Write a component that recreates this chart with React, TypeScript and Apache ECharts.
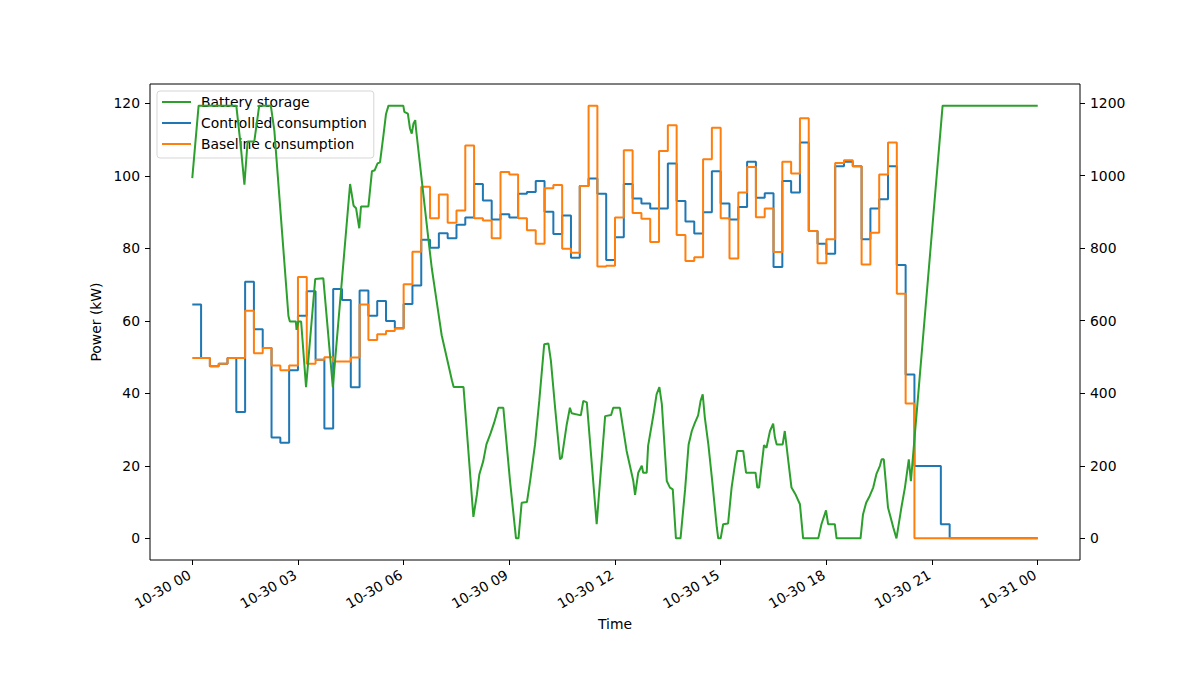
import React, { useEffect, useRef } from "react";
import * as echarts from "echarts";

// 15-minute steps starting 10-30 00:00 (hours from midnight)
const stepHours = 0.25;

const controlled = [
  64.5, 49.8, 47.5, 48.2, 49.8, 34.9, 70.8, 57.7, 52.5, 27.8,
  26.4, 46.4, 61.4, 68.2, 49.3, 30.3, 68.8, 65.8, 41.7, 68.4,
  61.4, 65.5, 60.0, 58.0, 64.7, 69.8, 82.4, 80.2, 84.2, 82.8,
  86.5, 88.5, 97.8, 93.2, 88.0, 89.4, 88.5, 95.1, 95.6, 98.6,
  90.1, 84.0, 89.1, 77.4, 97.2, 99.3, 95.1, 76.8, 83.1, 97.8,
  93.8, 92.4, 91.0, 91.0, 103.4, 93.1, 87.4, 84.1, 90.0, 101.3,
  92.4, 88.0, 91.4, 103.9, 94.0, 95.2, 74.9, 98.6, 95.4, 109.2,
  84.8, 81.3, 78.5, 102.7, 103.9, 102.7, 82.5, 91.0, 93.6, 102.7,
  75.4, 45.2, 20.0, 20.0, 20.0, 3.9, 0, 0, 0, 0,
  0, 0, 0, 0, 0, 0, 0,
];

const baseline = [
  49.8, 49.8, 47.5, 48.2, 49.8, 49.8, 62.8, 51.1, 52.5, 47.7,
  46.4, 47.7, 72.1, 48.2, 49.3, 50.0, 48.8, 48.8, 49.9, 64.5,
  54.7, 56.3, 57.2, 57.9, 70.1, 79.1, 97.0, 88.3, 94.9, 87.1,
  90.5, 108.4, 88.3, 87.7, 82.8, 101.1, 100.4, 88.3, 85.0, 81.3,
  96.6, 97.5, 79.9, 78.8, 97.2, 119.4, 75.0, 75.2, 88.5, 107.1,
  89.8, 88.2, 81.8, 106.9, 114.0, 83.7, 76.5, 77.6, 104.6, 113.3,
  88.3, 77.2, 95.4, 102.5, 88.6, 91.0, 79.0, 103.9, 100.7, 115.9,
  84.8, 75.9, 82.5, 103.6, 104.3, 102.7, 75.6, 84.3, 100.4, 109.2,
  67.5, 37.2, 0, 0, 0, 0, 0, 0, 0, 0,
  0, 0, 0, 0, 0, 0, 0,
];

// Battery storage (right axis): [hour, value] read at the line's vertices
const battery: [number, number][] = [
  [0.0, 993], [0.18, 1193], [1.25, 1193], [1.38, 1078], [1.48, 975],
  [1.57, 1094], [1.76, 1094], [1.9, 1193], [2.23, 1193], [2.33, 1124],
  [2.73, 613], [2.77, 598], [2.94, 598], [2.96, 575], [3.01, 598],
  [3.09, 598], [3.23, 417], [3.49, 715], [3.72, 717], [3.99, 417],
  [4.48, 977], [4.58, 917], [4.65, 910], [4.74, 855], [4.79, 915],
  [5.0, 915], [5.1, 1012], [5.18, 1015], [5.26, 1034], [5.33, 1037],
  [5.43, 1114], [5.5, 1170], [5.57, 1193], [5.99, 1193], [6.02, 1176],
  [6.12, 1171], [6.18, 1130], [6.23, 1116], [6.28, 1144], [6.33, 1153],
  [6.35, 1130], [6.52, 983], [6.7, 827], [6.8, 744], [6.94, 652],
  [7.08, 560], [7.23, 496], [7.37, 436], [7.42, 417], [7.7, 417],
  [7.98, 59], [8.08, 121], [8.15, 177], [8.26, 213], [8.35, 259],
  [8.47, 290], [8.57, 319], [8.69, 360], [8.83, 360], [9.02, 158],
  [9.19, 0], [9.26, 0], [9.35, 98], [9.5, 100], [9.59, 158],
  [9.73, 259], [9.85, 379], [9.99, 535], [10.11, 537], [10.18, 490],
  [10.3, 360], [10.44, 218], [10.49, 222], [10.63, 314], [10.72, 360],
  [10.77, 345], [11.03, 339], [11.1, 379], [11.2, 375], [11.48, 39],
  [11.72, 337], [11.89, 340], [11.95, 360], [12.14, 360], [12.33, 241],
  [12.52, 158], [12.57, 120], [12.66, 181], [12.76, 200], [12.8, 181],
  [12.9, 181], [12.94, 255], [13.09, 340], [13.18, 397], [13.26, 417],
  [13.33, 370], [13.47, 158], [13.56, 140], [13.64, 135], [13.73, 0],
  [13.86, 0], [13.99, 135], [14.09, 259], [14.18, 296], [14.27, 319],
  [14.36, 339], [14.43, 379], [14.49, 397], [14.55, 333], [14.65, 259],
  [14.76, 158], [14.89, 30], [14.93, 0], [15.0, 0], [15.07, 39],
  [15.21, 41], [15.31, 140], [15.4, 200], [15.47, 241], [15.64, 241],
  [15.72, 181], [15.99, 181], [16.04, 140], [16.09, 140], [16.16, 200],
  [16.23, 257], [16.3, 250], [16.4, 296], [16.49, 316], [16.54, 278],
  [16.59, 259], [16.76, 259], [16.82, 296], [16.92, 213], [17.01, 140],
  [17.13, 120], [17.25, 94], [17.34, 0], [17.77, 0], [17.86, 39],
  [17.99, 77], [18.05, 39], [18.24, 39], [18.29, 0], [18.97, 0],
  [19.04, 66], [19.13, 98], [19.23, 117], [19.33, 140], [19.42, 177],
  [19.52, 200], [19.57, 218], [19.63, 218], [19.75, 85], [19.9, 30],
  [19.99, 0], [20.13, 85], [20.23, 140], [20.34, 218], [20.4, 158],
  [21.3, 1193], [24.0, 1193],
];

const xTickHours = [0, 3, 6, 9, 12, 15, 18, 21, 24];
const xTickLabels = [
  "10-30 00", "10-30 03", "10-30 06", "10-30 09", "10-30 12",
  "10-30 15", "10-30 18", "10-30 21", "10-31 00",
];
const leftTicks = [0, 20, 40, 60, 80, 100, 120];
const rightTicks = [0, 200, 400, 600, 800, 1000, 1200];

const FONT = "DejaVu Sans";

export default function App() {
  const ref = useRef<HTMLDivElement>(null);

  useEffect(() => {
    document.body.style.margin = "0";
    if (!ref.current) return;
    const chart = echarts.init(ref.current, undefined, { renderer: "svg" });

    const leftMax = Math.max(...controlled, ...baseline);
    const rightMax = Math.max(...battery.map((p) => p[1]));
    const xMinData = 0;
    const xMaxData = (controlled.length - 1) * stepHours;
    const xPad = (xMaxData - xMinData) * 0.05;

    const tickLabelStyle = {
      color: "#000",
      fontFamily: FONT,
      fontSize: 13.9,
    };

    chart.setOption({
      animation: false,
      backgroundColor: "#fff",
      textStyle: { fontFamily: FONT },
      grid: {
        left: 150,
        top: 84,
        right: 120,
        bottom: 140,
        show: true,
        borderColor: "#000",
        borderWidth: 1,
        backgroundColor: "transparent",
      },
      legend: {
        left: 157,
        top: 91,
        orient: "vertical",
        data: ["Battery storage", "Controlled consumption", "Baseline consumption"],
        icon: "rect",
        itemWidth: 29,
        itemHeight: 2,
        itemGap: 5,
        padding: [3, 7, 6, 5],
        backgroundColor: "rgba(255,255,255,0.8)",
        borderColor: "rgba(204,204,204,0.8)",
        borderWidth: 1,
        borderRadius: 3,
        selectedMode: false,
        textStyle: {
          color: "#000",
          fontFamily: FONT,
          fontSize: 13.9,
          lineHeight: 16,
          padding: [0, 0, 0, 5],
        },
      },
      xAxis: {
        type: "value",
        min: xMinData - xPad,
        max: xMaxData + xPad,
        name: "Time",
        nameLocation: "middle",
        nameGap: 54,
        nameTextStyle: { color: "#000", fontFamily: FONT, fontSize: 13.9 },
        axisLine: { show: false, onZero: false },
        splitLine: { show: false },
        axisTick: {
          show: true,
          inside: false,
          length: 5,
          customValues: xTickHours,
          lineStyle: { color: "#000", width: 1 },
        },
        axisLabel: {
          ...tickLabelStyle,
          rotate: 30,
          margin: 12,
          padding: [0, 3, 0, 0],
          customValues: xTickHours,
          formatter: (v: number) => {
            const idx = xTickHours.findIndex((h) => Math.abs(h - v) < 1e-6);
            return idx >= 0 ? xTickLabels[idx] : "";
          },
        },
      },
      yAxis: [
        {
          type: "value",
          position: "left",
          min: -0.05 * leftMax,
          max: 1.05 * leftMax,
          name: "Power (kW)",
          nameLocation: "middle",
          nameGap: 43,
          nameTextStyle: { color: "#000", fontFamily: FONT, fontSize: 13.9 },
          axisLine: { show: false, onZero: false },
          splitLine: { show: false },
          axisTick: {
            show: true,
            inside: false,
            length: 5,
            customValues: leftTicks,
            lineStyle: { color: "#000", width: 1 },
          },
          axisLabel: {
            ...tickLabelStyle,
            margin: 10,
            customValues: leftTicks,
            formatter: (v: number) => String(v),
          },
        },
        {
          type: "value",
          position: "right",
          min: -0.05 * rightMax,
          max: 1.05 * rightMax,
          axisLine: { show: false, onZero: false },
          splitLine: { show: false },
          axisTick: {
            show: true,
            inside: false,
            length: 5,
            customValues: rightTicks,
            lineStyle: { color: "#000", width: 1 },
          },
          axisLabel: {
            ...tickLabelStyle,
            margin: 10,
            customValues: rightTicks,
            formatter: (v: number) => String(v),
          },
        },
      ],
      series: [
        {
          name: "Controlled consumption",
          type: "line",
          yAxisIndex: 0,
          step: "end",
          showSymbol: false,
          symbol: "none",
          color: "#1f77b4",
          lineStyle: { color: "#1f77b4", width: 2 },
          data: controlled.map((v, i) => [i * stepHours, v]),
          z: 2,
        },
        {
          name: "Baseline consumption",
          type: "line",
          yAxisIndex: 0,
          step: "end",
          showSymbol: false,
          symbol: "none",
          color: "#ff7f0e",
          lineStyle: { color: "#ff7f0e", width: 2 },
          data: baseline.map((v, i) => [i * stepHours, v]),
          z: 3,
        },
        {
          name: "Battery storage",
          type: "line",
          yAxisIndex: 1,
          showSymbol: false,
          symbol: "none",
          color: "#2ca02c",
          lineStyle: { color: "#2ca02c", width: 2 },
          data: battery.map((p) => [p[0], p[1]]),
          z: 10,
        },
      ],
    });

    return () => chart.dispose();
  }, []);

  return <div ref={ref} style={{ width: 1200, height: 700 }} />;
}
